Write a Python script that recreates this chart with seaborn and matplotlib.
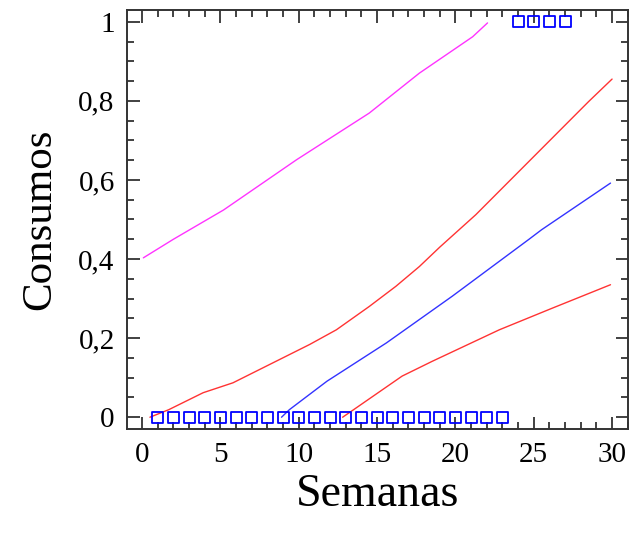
import matplotlib
matplotlib.use("Agg")
import matplotlib.pyplot as plt
import seaborn as sns
import pandas as pd
from matplotlib.ticker import MultipleLocator

sns.set_style("ticks")
plt.rcParams['font.family'] = ['Liberation Serif', 'DejaVu Serif']
plt.rcParams['text.color'] = 'black'
plt.rcParams['axes.labelcolor'] = 'black'
plt.rcParams['xtick.labelcolor'] = 'black'
plt.rcParams['ytick.labelcolor'] = 'black'

# observed data
semanas = list(range(1, 28))
consumos = [0] * 23 + [1] * 4

# fitted line (blue)
fit_x = [8.9, 9.4, 11.8, 15.6, 19.8, 24.7, 25.5, 29.9]
fit_y = [0.0, 0.019, 0.091, 0.188, 0.306, 0.450, 0.474, 0.592]

# upper confidence limit (red)
upper_x = [0.5, 1.7, 3.9, 5.8, 10.7, 12.4, 14.5, 16.2, 17.7, 19.0, 21.3, 28.5, 30.0]
upper_y = [0.0, 0.019, 0.062, 0.087, 0.184, 0.221, 0.280, 0.331, 0.381, 0.430, 0.512, 0.798, 0.855]

# lower confidence limit (red)
lower_x = [12.8, 13.5, 16.6, 18.5, 22.8, 26.2, 29.9]
lower_y = [0.0, 0.019, 0.104, 0.141, 0.221, 0.276, 0.335]

# upper prediction limit (magenta)
pred_x = [0.08, 2.0, 5.2, 9.86, 14.5, 17.7, 21.1, 22.05]
pred_y = [0.403, 0.450, 0.524, 0.651, 0.769, 0.870, 0.962, 0.997]

xticks = [0, 5, 10, 15, 20, 25, 30]
yticks = [0, 0.2, 0.4, 0.6, 0.8, 1.0]
ytick_labels = ["0", "0,2", "0,4", "0,6", "0,8", "1"]

fig = plt.figure(figsize=(6.36, 5.48), dpi=100)
ax = fig.add_axes([0.2, 0.217, 0.787, 0.765])

sns.lineplot(x=pred_x, y=pred_y, ax=ax, color="#ff33ff", lw=1.0, sort=False, estimator=None)
sns.lineplot(x=upper_x, y=upper_y, ax=ax, color="#ff3333", lw=1.0, sort=False, estimator=None)
sns.lineplot(x=lower_x, y=lower_y, ax=ax, color="#ff3333", lw=1.0, sort=False, estimator=None)
sns.lineplot(x=fit_x, y=fit_y, ax=ax, color="#3333ff", lw=1.0, sort=False, estimator=None)
sns.scatterplot(x=semanas, y=consumos, ax=ax, marker="s", s=64,
                facecolor="none", edgecolor="#0000ff", linewidth=1.3, zorder=5)

ax.set_xlim(-0.95, 31.0)
ax.set_ylim(-0.03, 1.03)
ax.set_xticks(xticks)
ax.set_xticklabels([str(t) for t in xticks])
ax.set_yticks(yticks)
ax.set_yticklabels(ytick_labels)
ax.xaxis.set_minor_locator(MultipleLocator(1))
ax.yaxis.set_minor_locator(MultipleLocator(0.05))
ax.tick_params(which="both", direction="in", top=True, right=True, color="#333333", width=1.3)
ax.tick_params(which="major", length=9, labelsize=21, pad=9, labelcolor="black")
ax.tick_params(which="minor", length=5)
for s in ax.spines.values():
    s.set_color("#333333")
    s.set_linewidth(1.4)

ax.set_xlabel("Semanas", fontsize=33, labelpad=4, color="black")
ax.set_ylabel("Consumos", fontsize=31, labelpad=14, color="black")

fig.savefig("out.png", dpi=100)
